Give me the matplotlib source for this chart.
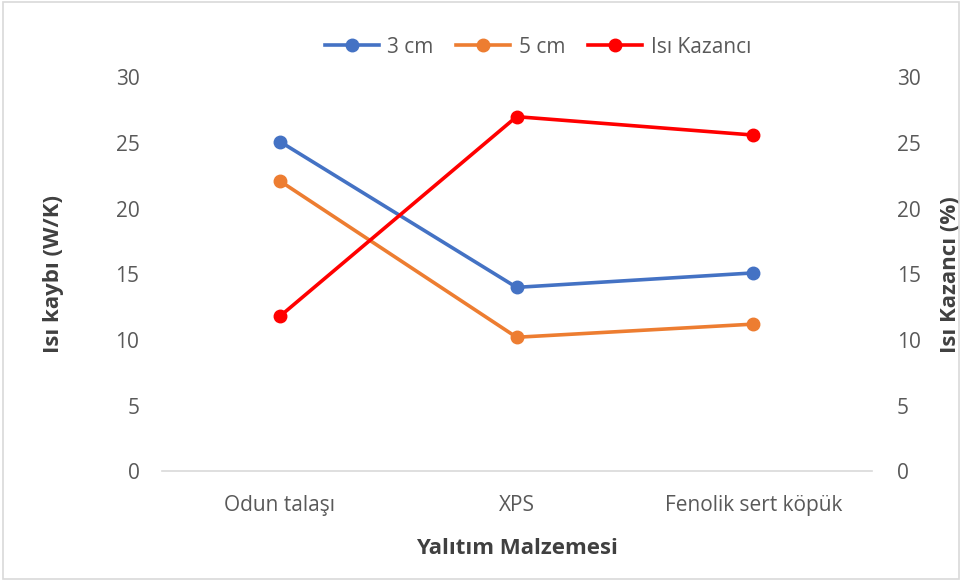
import matplotlib
matplotlib.use("Agg")
import matplotlib.pyplot as plt
from matplotlib.patches import Rectangle

plt.rcParams['font.family'] = ['Open Sans', 'DejaVu Sans']

categories = ["Odun talaşı", "XPS", "Fenolik sert köpük"]
loss_3cm = [25.1, 14.0, 15.1]
loss_5cm = [22.1, 10.2, 11.2]
heat_gain = [11.8, 27.0, 25.6]

yticks = [0, 5, 10, 15, 20, 25, 30]

tick_color = "#595959"
label_color = "#404040"

fig = plt.figure(figsize=(9.62, 5.81), dpi=100)
ax = fig.add_axes([0.168, 0.189, 0.738, 0.678])
ax2 = ax.twinx()

x = list(range(len(categories)))
l1, = ax.plot(x, loss_3cm, color="#4472C4", lw=2.6, marker="o", ms=9, label="3 cm")
l2, = ax.plot(x, loss_5cm, color="#ED7D31", lw=2.6, marker="o", ms=9, label="5 cm")
l3, = ax2.plot(x, heat_gain, color="#FF0000", lw=2.6, marker="o", ms=9, label="Isı Kazancı")

for a in (ax, ax2):
    a.set_ylim(0, 30)
    a.set_yticks(yticks)
    a.set_xlim(-0.5, 2.5)
    for s in a.spines.values():
        s.set_visible(False)
    a.tick_params(axis="y", length=0, labelsize=15, colors=tick_color)

ax.spines["bottom"].set_visible(True)
ax.spines["bottom"].set_color("#D9D9D9")
ax.spines["bottom"].set_linewidth(1.2)
ax.set_xticks(x)
ax.set_xticklabels(categories)
ax.tick_params(axis="x", length=0, labelsize=15, colors=tick_color, pad=17)
ax.tick_params(axis="y", pad=16)
ax2.tick_params(axis="y", pad=18)

ax.set_ylabel("Isı kaybı (W/K)", fontsize=16, fontweight="bold", color=label_color, labelpad=37)
ax2.set_ylabel("Isı Kazancı (%)", fontsize=16, fontweight="bold", color=label_color, labelpad=14)
ax.set_xlabel("Yalıtım Malzemesi", fontsize=16, fontweight="bold", color=label_color, labelpad=16)

fig.legend(handles=[l1, l2, l3], loc="center", bbox_to_anchor=(0.559, 0.919), ncol=3,
           frameon=False, fontsize=15, handlelength=2.6, columnspacing=1.1,
           handletextpad=0.4, labelcolor=tick_color)

fig.patches.append(Rectangle((0.003, 0.004), 0.994, 0.992, transform=fig.transFigure,
                             fill=False, edgecolor="#D9D9D9", lw=1.2))

fig.savefig("out.png", dpi=100)
